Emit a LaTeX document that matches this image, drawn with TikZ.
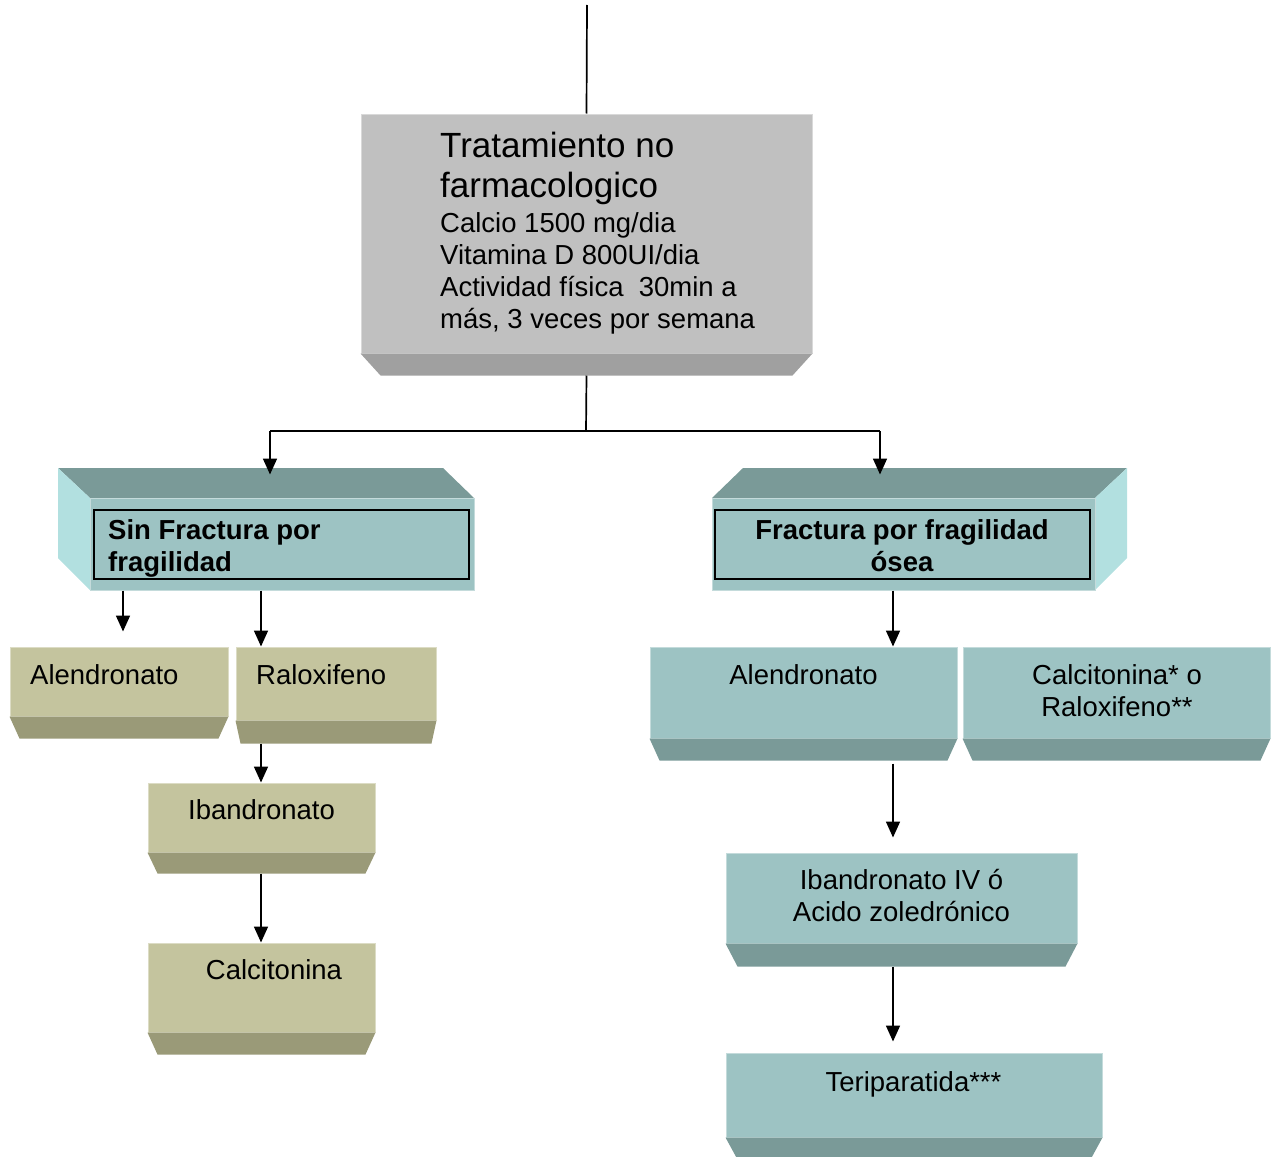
\documentclass[tikz,border=0pt]{standalone}
\usepackage{fontspec}
\setmainfont{Liberation Sans}
\usetikzlibrary{fit,arrows.meta}
\definecolor{topfront}{HTML}{C0C0C0}
\definecolor{topbev}{HTML}{A0A0A0}
\definecolor{tealfront}{HTML}{9DC3C3}
\definecolor{tealdark}{HTML}{7A9A98}
\definecolor{teallight}{HTML}{B2E0E0}
\definecolor{olfront}{HTML}{C4C49E}
\definecolor{oldark}{HTML}{9A9A78}
\newcommand\bevelbox[9]{%
  \node[fit={(#2,#3)(#4,#5)}, inner sep=0pt, fill=#8, draw=#8!60!white, line width=1pt] (#1) {};
  \fill[#9] (#1.south west) -- (#1.south east) -- ([xshift=-#7pt,yshift=-#6pt]#1.south east) -- ([xshift=#7pt,yshift=-#6pt]#1.south west) -- cycle;
}
\tikzset{
  ln/.style={line width=1.7pt, black},
  arr/.style={line width=1.7pt, black, -{Triangle[length=16pt,width=14pt]}},
  txt/.style={inner sep=0pt, font=\fontsize{27.5}{32}\selectfont},
  btxt/.style={inner sep=0pt, font=\fontsize{27.5}{32}\selectfont\bfseries},
  htxt/.style={inner sep=0pt, font=\fontsize{35}{40}\selectfont},
}
\begin{document}
\begin{tikzpicture}[x=1pt,y=-1pt]
\useasboundingbox (0,0) rectangle (1276,1156);
\clip (0,0) rectangle (1276,1156);

% top box
\bevelbox{top}{361}{114}{812}{353}{22}{20}{topfront}{topbev}
\node[htxt, anchor=north west, align=left] (toph) at (440,132) {Tratamiento no\\farmacologico};
\node[txt, anchor=north west, align=left] (topb) at (440,212) {Calcio 1500 mg/dia\\Vitamina D 800UI/dia\\Actividad física\ \ 30min a\\más, 3 veces por semana};

% left header box
\fill[tealdark] (58,468) -- (443,468) -- (474,498) -- (90,498) -- cycle;
\fill[teallight] (58,468) -- (90,498) -- (90,590) -- (58,558) -- cycle;
\node[fit={(90,498)(474,590)}, inner sep=0pt, fill=tealfront, draw=tealfront!60!white, line width=1pt] (sinF) {};
\draw[line width=1.5pt] (94,510) rectangle (469,579);
\node[btxt, anchor=north west, align=left] (sinT) at (108,519) {Sin Fractura por\\fragilidad};

% right header box
\fill[tealdark] (743,468) -- (1127,468) -- (1095,498) -- (712,498) -- cycle;
\fill[teallight] (1095,498) -- (1127,468) -- (1127,558) -- (1095,590) -- cycle;
\node[fit={(712,498)(1095,590)}, inner sep=0pt, fill=tealfront, draw=tealfront!60!white, line width=1pt] (frF) {};
\draw[line width=1.5pt] (715,510) rectangle (1090,579);
\node[btxt, anchor=north, align=center] (frT) at (902,519) {Fractura por fragilidad\\ósea};

% left olive boxes
\bevelbox{aleL}{10}{647}{228}{716}{22}{10}{olfront}{oldark}
\node[txt, anchor=base west] (aleLt) at (30,684) {Alendronato};
\bevelbox{ralL}{236}{647}{436}{720}{23}{5}{olfront}{oldark}
\node[txt, anchor=base west] (ralLt) at (256,684) {Raloxifeno};
\bevelbox{ibaL}{148}{783}{375}{852}{21}{10}{olfront}{oldark}
\node[txt, anchor=base] (ibaLt) at (261.5,819) {Ibandronato};
\bevelbox{calL}{148}{943}{375}{1032}{22}{10}{olfront}{oldark}
\node[txt, anchor=base] (calLt) at (274,979) {Calcitonina};

% right teal boxes
\bevelbox{aleR}{650}{647}{957}{738}{22}{10}{tealfront}{tealdark}
\node[txt, anchor=base] (aleRt) at (803.5,684) {Alendronato};
\bevelbox{calR}{963}{647}{1270}{738}{22}{10}{tealfront}{tealdark}
\node[txt, anchor=north, align=center] (calRt) at (1117,664) {Calcitonina* o\\Raloxifeno**};
\bevelbox{ibaR}{726}{853}{1077}{943}{23}{12}{tealfront}{tealdark}
\node[txt, anchor=north, align=center] (ibaRt) at (901.5,869) {Ibandronato IV ó\\Acido zoledrónico};
\bevelbox{terR}{726}{1053}{1102}{1137}{22}{12}{tealfront}{tealdark}
\node[txt, anchor=base] (terRt) at (913.5,1091) {Teriparatida***};

% connectors
\coordinate (topend) at (587,5);
\coordinate (j) at (586,431);
\coordinate (jL) at (270,431);
\coordinate (jR) at (880,431);
\coordinate (xa) at (123,0);
\coordinate (xb) at (261,0);
\coordinate (xc) at (893,0);
\draw[ln] (topend) -- (top.north);
\draw[ln] ([yshift=-22pt]top.south) -- (j);
\draw[ln] (jL) -- (jR);
\draw[arr] (jL) -- ([yshift=23pt]sinF.north -| jL);
\draw[arr] (jR) -- ([yshift=23pt]frF.north -| jR);
\draw[arr] (sinF.south -| xa) -- ([yshift=15pt]aleL.north -| xa);
\draw[arr] (sinF.south -| xb) -- (ralL.north -| xb);
\draw[arr] (frF.south -| xc) -- (aleR.north -| xc);
\draw[arr] ([yshift=-23pt]ralL.south -| xb) -- (ibaL.north -| xb);
\draw[arr] ([yshift=-21pt]ibaL.south -| xb) -- (calL.north -| xb);
\draw[arr] ([yshift=-25pt]aleR.south -| xc) -- ([yshift=15pt]ibaR.north -| xc);
\draw[arr] ([yshift=-23pt]ibaR.south -| xc) -- ([yshift=11pt]terR.north -| xc);
\end{tikzpicture}
\end{document}
